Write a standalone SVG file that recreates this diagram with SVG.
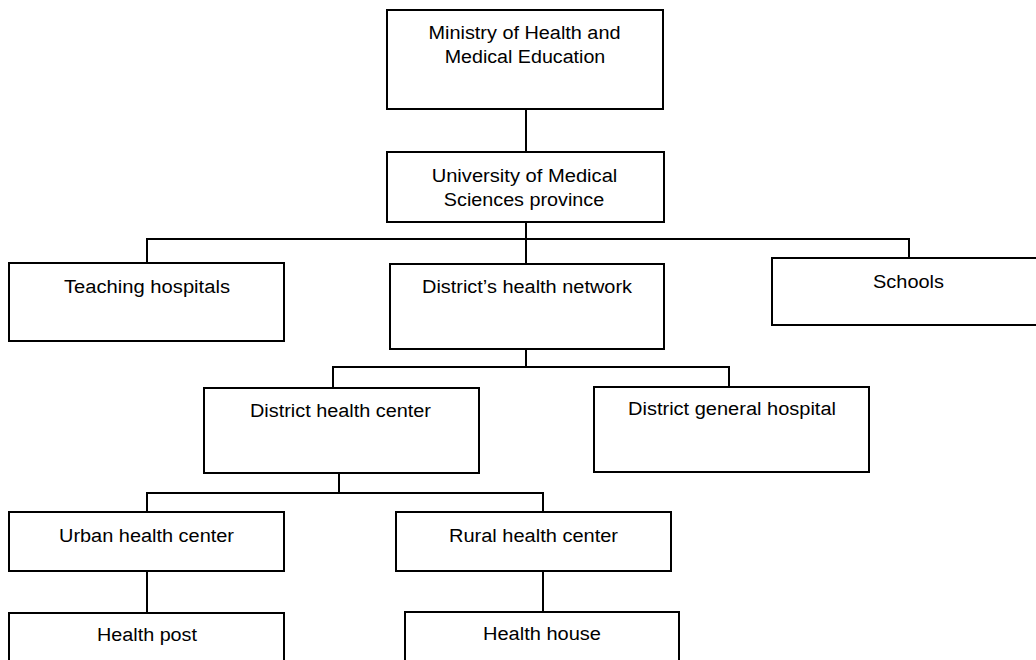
<svg xmlns="http://www.w3.org/2000/svg" width="1036" height="660" viewBox="0 0 1036 660">
<style>
.box{fill:#fff;stroke:#000;stroke-width:2}
.ln{fill:none;stroke:#000;stroke-width:2}
text{font-family:"Liberation Sans",Arial,sans-serif;font-size:18px;fill:#000;text-anchor:middle}
</style>
<rect width="1036" height="660" fill="#fff"/>
<g id="connectors" class="ln">
<path d="M526 109V152"/>
<path d="M526 222V264"/>
<path d="M147 263V239H909V258"/>
<path d="M526 349V367"/>
<path d="M333 388V367H729V387"/>
<path d="M339 473V493"/>
<path d="M147 512V493H543V512"/>
<path d="M147 571V613"/>
<path d="M543 571V612"/>
</g>
<g id="ministry"><rect class="box" x="387" y="10" width="276" height="99"/>
<text x="524.5" y="38.5" textLength="192" lengthAdjust="spacingAndGlyphs">Ministry of Health and</text>
<text x="525" y="62.5" textLength="160.6" lengthAdjust="spacingAndGlyphs">Medical Education</text></g>
<g id="university"><rect class="box" x="387" y="152" width="277" height="70"/>
<text x="524.5" y="181.5" textLength="185.7" lengthAdjust="spacingAndGlyphs">University of Medical</text>
<text x="524" y="206" textLength="160.3" lengthAdjust="spacingAndGlyphs">Sciences province</text></g>
<g id="teaching"><rect class="box" x="9" y="263" width="275" height="78"/>
<text x="147" y="293" textLength="166" lengthAdjust="spacingAndGlyphs">Teaching hospitals</text></g>
<g id="network"><rect class="box" x="390" y="264" width="274" height="85"/>
<text x="527" y="293" textLength="210" lengthAdjust="spacingAndGlyphs">District’s health network</text></g>
<g id="schools"><rect class="box" x="772" y="258" width="275" height="67"/>
<text x="908.5" y="288" textLength="71" lengthAdjust="spacingAndGlyphs">Schools</text></g>
<g id="dhc"><rect class="box" x="204" y="388" width="275" height="85"/>
<text x="340.5" y="417" textLength="181" lengthAdjust="spacingAndGlyphs">District health center</text></g>
<g id="dgh"><rect class="box" x="594" y="387" width="275" height="85"/>
<text x="732" y="415" textLength="208" lengthAdjust="spacingAndGlyphs">District general hospital</text></g>
<g id="urban"><rect class="box" x="9" y="512" width="275" height="59"/>
<text x="146.5" y="541.5" textLength="175" lengthAdjust="spacingAndGlyphs">Urban health center</text></g>
<g id="rural"><rect class="box" x="396" y="512" width="275" height="59"/>
<text x="533.5" y="541.5" textLength="169" lengthAdjust="spacingAndGlyphs">Rural health center</text></g>
<g id="healthpost"><rect class="box" x="9" y="613" width="275" height="60"/>
<text x="147" y="640.5" textLength="100" lengthAdjust="spacingAndGlyphs">Health post</text></g>
<g id="healthhouse"><rect class="box" x="405" y="612" width="274" height="60"/>
<text x="542" y="640" textLength="118" lengthAdjust="spacingAndGlyphs">Health house</text></g>
</svg>
